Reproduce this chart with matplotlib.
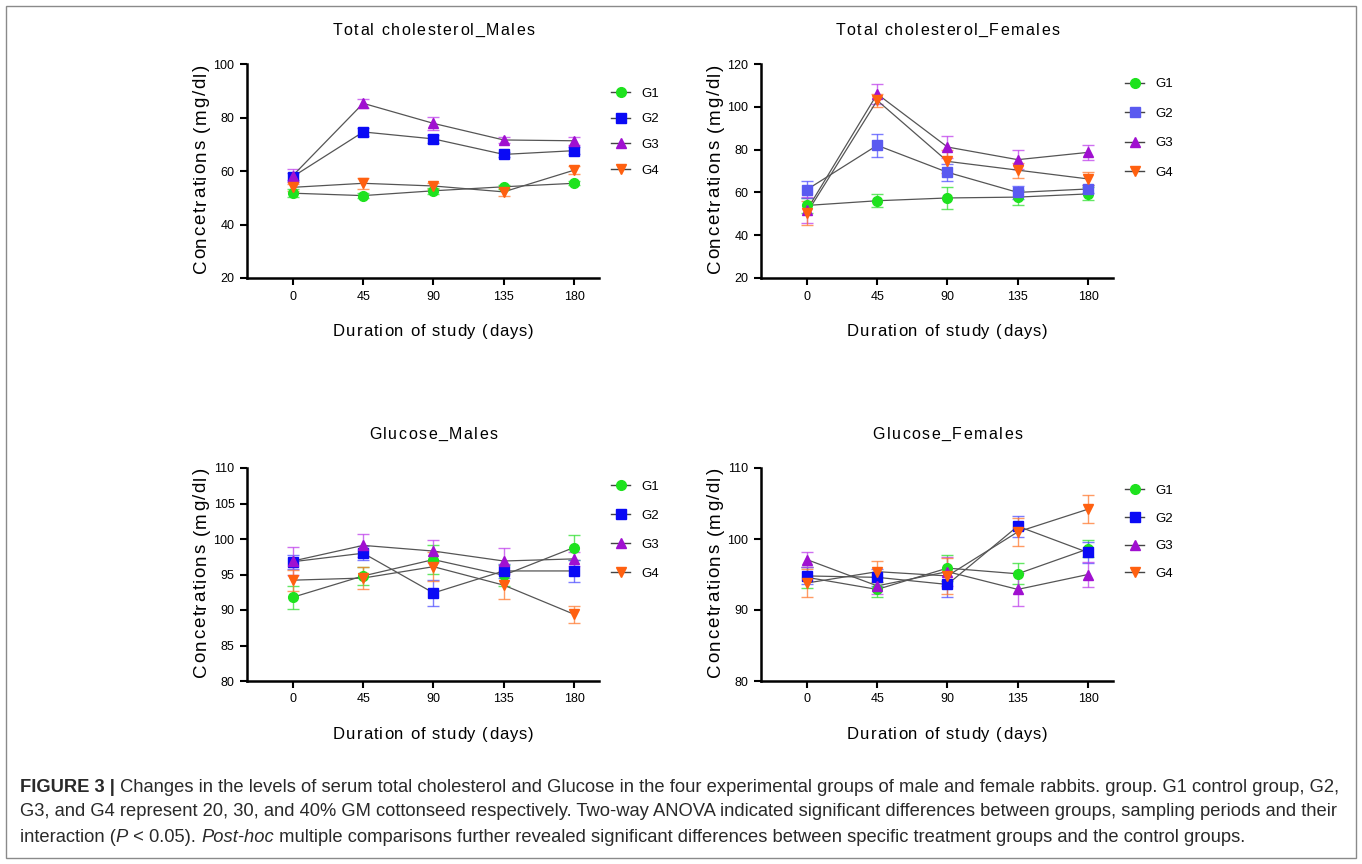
import matplotlib
matplotlib.use("Agg")
import matplotlib.pyplot as plt
from matplotlib import font_manager
from matplotlib.lines import Line2D
from matplotlib.patches import Rectangle

# ---- data ---------------------------------------------------------------
days = [0, 45, 90, 135, 180]
groups = ["G1", "G2", "G3", "G4"]

tc_males = [
    [51.7, 50.8, 52.6, 54.1, 55.4],
    [57.9, 74.6, 72.0, 66.2, 67.6],
    [58.3, 85.3, 77.8, 71.6, 71.3],
    [53.9, 55.4, 54.4, 52.2, 60.3],
]
tc_males_err = [
    [1.5, 0.8, 1.2, 0.8, 0.8],
    [1.2, 1.5, 1.5, 1.0, 1.2],
    [2.5, 1.8, 2.5, 1.0, 1.5],
    [1.2, 2.0, 1.2, 1.5, 1.5],
]

tc_females = [
    [53.9, 56.1, 57.4, 57.8, 59.3],
    [61.3, 82.0, 69.4, 60.0, 61.6],
    [51.8, 106.0, 81.2, 75.3, 78.7],
    [50.4, 103.0, 74.5, 70.4, 66.3],
]
tc_females_err = [
    [3.5, 3.0, 5.0, 3.5, 3.0],
    [4.0, 5.5, 4.0, 3.0, 2.0],
    [6.0, 4.5, 5.0, 4.5, 3.5],
    [5.5, 3.0, 5.5, 3.5, 3.0],
]

glu_males = [
    [91.8, 94.8, 97.1, 94.9, 98.8],
    [96.8, 98.0, 92.4, 95.5, 95.5],
    [96.9, 99.1, 98.3, 96.9, 97.2],
    [94.2, 94.5, 96.1, 93.5, 89.4],
]
glu_males_err = [
    [1.6, 1.3, 2.0, 1.5, 1.7],
    [1.0, 1.0, 1.8, 1.0, 1.6],
    [2.0, 1.6, 1.5, 1.8, 1.0],
    [1.5, 1.6, 2.0, 2.0, 1.2],
]

glu_females = [
    [94.6, 92.9, 95.9, 95.1, 98.6],
    [94.8, 94.6, 93.6, 101.8, 98.1],
    [97.1, 93.4, 95.4, 92.9, 95.0],
    [93.8, 95.4, 94.8, 101.0, 104.2],
]
glu_females_err = [
    [1.5, 1.0, 1.8, 1.5, 1.2],
    [1.2, 1.2, 1.7, 1.5, 1.5],
    [1.0, 1.2, 2.0, 2.3, 1.7],
    [2.0, 1.5, 2.5, 2.0, 2.0],
]

titles = ["Total cholesterol_Males", "Total cholesterol_Females",
          "Glucose_Males", "Glucose_Females"]

# ---- styling ------------------------------------------------------------
W, H = 1362, 864
markers = ["o", "s", "^", "v"]
colors = ["#1ee21e", "#0a0af5", "#a010d0", "#ff6010"]
colors_tcf = ["#1ee21e", "#5a5af0", "#a010d0", "#ff6010"]
ecolors = ["#30e030", "#5050ff", "#c040ec", "#ff7a30"]

plt.rcParams["font.family"] = ["Liberation Sans", "DejaVu Sans"]

fig = plt.figure(figsize=(W / 100, H / 100), dpi=100)
renderer = fig.canvas.get_renderer()


def measure(s, size, **kw):
    t = fig.text(0, 0, s, fontsize=size, **kw)
    w = t.get_window_extent(renderer).width
    t.remove()
    return w


def spaced_text(cx, cy, s, size, track, vertical=False):
    """Letter-spaced text centred on display point (cx, cy)."""
    base = measure("HH", size)
    adv = [measure("H" + c + "H", size) - base for c in s]
    total = sum(adv) + track * (len(s) - 1)
    fs_px = size * 100 / 72
    pos = -total / 2
    for c, a in zip(s, adv):
        if vertical:
            x, y = cx + 0.3 * fs_px, cy + pos
            rot = 90
        else:
            x, y = cx + pos, cy - 0.3 * fs_px
            rot = 0
        fig.text(x / W, y / H, c, fontsize=size, rotation=rot,
                 rotation_mode="anchor", ha="left", va="baseline")
        pos += a + track


# axes boxes in pixels: left, top, width, height
boxes = [(247, 64, 352, 214), (761, 64, 352, 214),
         (247, 468, 352, 213), (761, 468, 352, 213)]
panels = [
    (tc_males, tc_males_err, (20, 100), range(20, 101, 20), colors),
    (tc_females, tc_females_err, (20, 120), range(20, 121, 20), colors_tcf),
    (glu_males, glu_males_err, (80, 110), range(80, 111, 5), colors),
    (glu_females, glu_females_err, (80, 110), range(80, 111, 10), colors),
]
legend_y = [0.891, 0.934, 0.940, 0.922]
legend_sp = [1.02, 1.3, 1.27, 1.17]

for i, ((vals, errs, ylim, yticks, cols), (l, t, w, h)) in enumerate(zip(panels, boxes)):
    ax = fig.add_axes([l / W, 1 - (t + h) / H, w / W, h / H])
    for g in range(4):
        ax.errorbar(days, vals[g], yerr=errs[g], fmt="none", ecolor=ecolors[g],
                    elinewidth=1.0, capsize=4, capthick=1.0, alpha=0.75, zorder=2)
        ax.plot(days, vals[g], color="#555555", lw=0.9, zorder=3)
        ax.plot(days, vals[g], ls="none", marker=markers[g], ms=7,
                mfc=cols[g], mec=cols[g], zorder=4)
    ax.set_xlim(-29.4, 196)
    ax.set_ylim(*ylim)
    ax.set_xticks(days)
    ax.set_yticks(list(yticks))
    for s in ["top", "right"]:
        ax.spines[s].set_visible(False)
    for s in ["left", "bottom"]:
        ax.spines[s].set_linewidth(1.8)
    ax.tick_params(direction="out", length=5, width=1.5, labelsize=9,
                   colors="black", pad=4)

    # titles and axis labels (letter-spaced like the original export)
    x_mid = ax.transData.transform((90, ylim[0]))[0]
    top_px = H - t
    bot_px = H - (t + h)
    spaced_text(x_mid, top_px + 34, titles[i], 11.5, 1.5)
    spaced_text(x_mid, bot_px - 53, "Duration of study (days)", 12, 1.0)
    spaced_text(l - 47, bot_px + h / 2 + 2, "Concetrations (mg/dl)", 13.5, 1.5,
                vertical=True)

    handles = [Line2D([], [], color="#444444", lw=1, marker=markers[g], ms=7,
                      mfc=cols[g], mec=cols[g]) for g in range(4)]
    ax.legend(handles, groups, loc="upper left", bbox_to_anchor=(1.034, legend_y[i]),
              frameon=False, fontsize=9.5, handlelength=1.45, handletextpad=0.85,
              labelspacing=legend_sp[i], borderaxespad=0, borderpad=0)

# ---- frame and caption --------------------------------------------------
fig.patches.append(Rectangle((6 / W, 1 - 858 / H), 1350 / W, 852 / H,
                             transform=fig.transFigure, fill=False,
                             edgecolor="#8a8a8a", lw=1.0))

names = {f.name for f in font_manager.fontManager.ttflist}
cap_font = "Liberation Sans Narrow" if "Liberation Sans Narrow" in names else "Liberation Sans"

line1 = [("FIGURE 3 |", "bold", "normal"),
         (" Changes in the levels of serum total cholesterol and Glucose in the four "
          "experimental groups of male and female rabbits. group. G1 control group, G2,",
          "normal", "normal")]
line2 = [("G3, and G4 represent 20, 30, and 40% GM cottonseed respectively. Two-way "
          "ANOVA indicated significant differences between groups, sampling periods and their",
          "normal", "normal")]
line3 = [("interaction (", "normal", "normal"), ("P", "normal", "italic"),
         (" < 0.05). ", "normal", "normal"), ("Post-hoc", "normal", "italic"),
         (" multiple comparisons further revealed significant differences between "
          "specific treatment groups and the control groups.", "normal", "normal")]


def draw_line(pieces, x0, y, size):
    x = x0
    for txt, weight, style in pieces:
        tx = fig.text(x / W, 1 - y / H, txt, fontsize=size, family=cap_font,
                      fontweight=weight, fontstyle=style, color="#2a2a2a",
                      va="center", ha="left")
        x += tx.get_window_extent(renderer).width
    return x


# fit caption size so the first line spans the same width as the original
pw = measure("".join(p[0] for p in line1), 10, family=cap_font)
cap_size = 10 * 1320 / pw

draw_line(line1, 20, 787, cap_size)
draw_line(line2, 20, 812, cap_size)
draw_line(line3, 20, 838, cap_size)

fig.savefig("out.png", dpi=100)
